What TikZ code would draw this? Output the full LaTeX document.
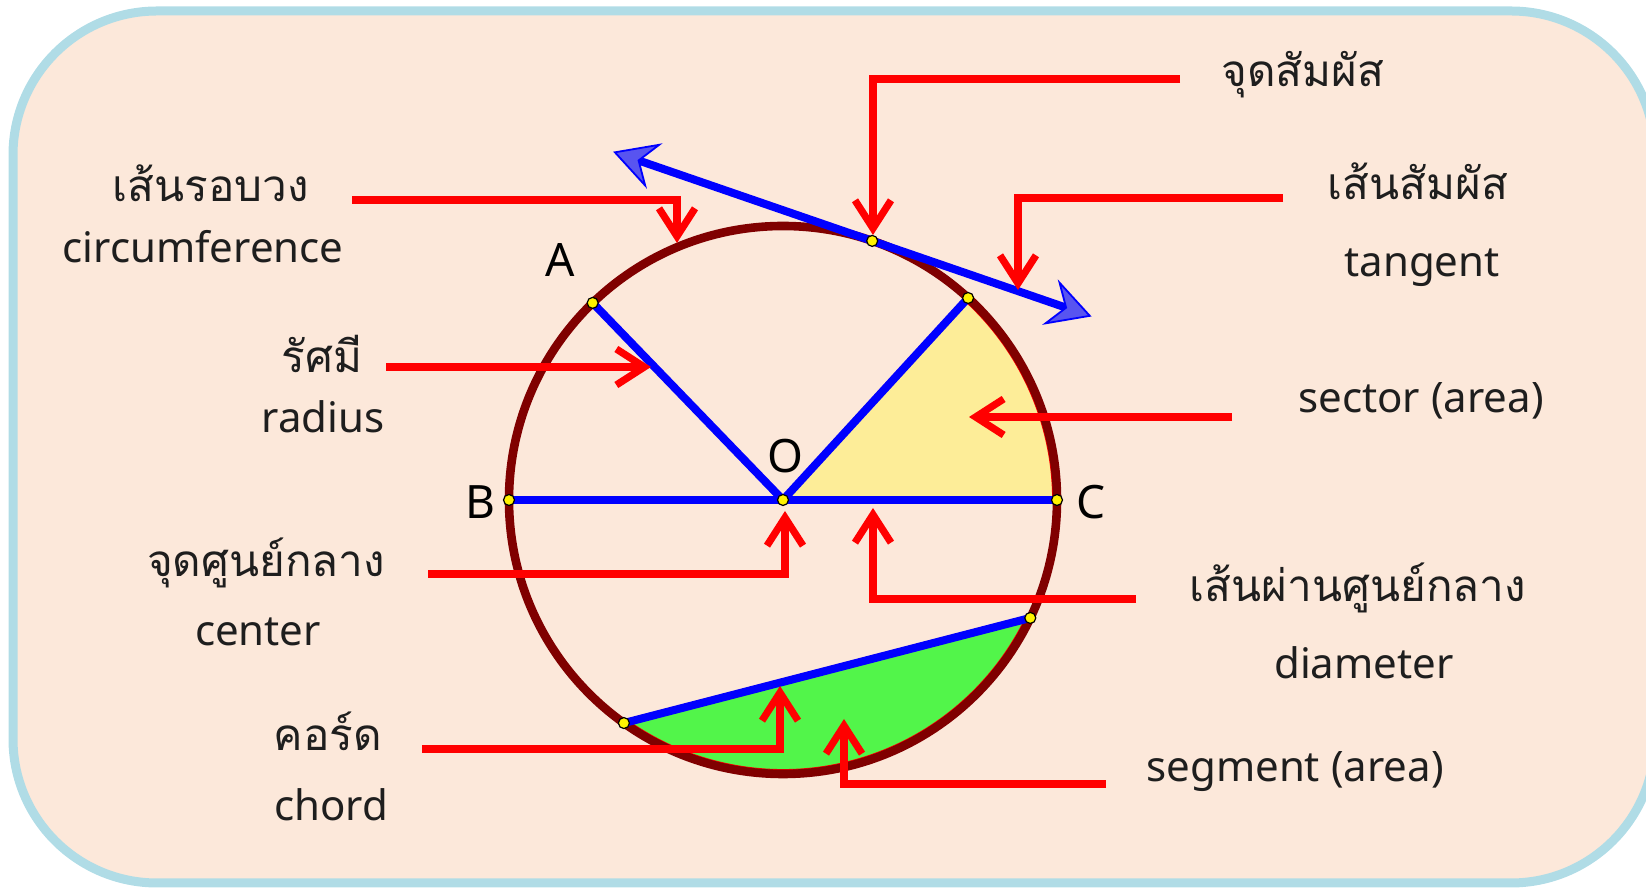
\documentclass[tikz,border=0pt]{standalone}
\usepackage{fontspec}
\setmainfont{Noto Sans}
\newfontfamily\thaifont[Script=Thai]{Loma}
\usetikzlibrary{arrows.meta, calc}

\definecolor{boxfill}{RGB}{252,232,218}
\definecolor{boxline}{RGB}{176,220,230}
\definecolor{rimred}{RGB}{128,0,0}
\definecolor{sectoryel}{RGB}{253,237,152}
\definecolor{segreen}{RGB}{82,245,74}
\definecolor{tipblue}{RGB}{88,84,240}
\definecolor{txtgray}{RGB}{30,30,30}

\tikzset{
  en/.style={font=\fontsize{21}{25}\selectfont, text=txtgray, anchor=base, inner sep=0pt},
  th/.style={font=\thaifont\fontsize{22}{26}\selectfont, text=txtgray, anchor=base, inner sep=0pt},
  letter/.style={font=\fontsize{23}{27}\selectfont, anchor=base, inner sep=0pt},
  vtx/.style={circle, draw=black, fill=yellow, line width=0.6pt, inner sep=0pt, minimum size=5.5pt},
  callout/.style={draw=red, line width=3.6pt, -{Straight Barb[length=14pt, width=18pt]}},
  blueseg/.style={draw=blue, line width=4pt},
  tangentline/.style={blueseg,
    {Stealth[length=22pt, width=24pt, inset=8pt, fill=tipblue, line width=0.9pt]}-{Stealth[length=22pt, width=24pt, inset=8pt, fill=tipblue, line width=0.9pt]}}
}

\begin{document}
\begin{tikzpicture}[x=0.5pt, y=0.5pt]
  \useasboundingbox (0,0) rectangle (1646,888);
  \draw[boxline, fill=boxfill, line width=4.5pt, rounded corners=72pt] (13,5) rectangle (1655,877);

  % points on the circle
  \coordinate (O) at (783,388);
  \coordinate (A) at ($(O)+(134:274)$);
  \coordinate (B) at ($(O)+(180:274)$);
  \coordinate (C) at ($(O)+(0:274)$);
  \coordinate (D) at ($(O)+(47.5:274)$);
  \coordinate (T) at ($(O)+(71:274)$);
  \coordinate (P) at ($(O)+(234.5:274)$);
  \coordinate (Q) at ($(O)+(-25.5:274)$);
  \coordinate (tanL) at ($(T)+(161:274)$);
  \coordinate (tanR) at ($(T)+(-19:232)$);

  % sector and segment
  \filldraw[fill=sectoryel, draw=red, line width=0.9pt] (O) -- ($(O)+(0:270)$) arc[start angle=0, end angle=47.5, radius=270] -- cycle;
  \filldraw[fill=segreen, draw=red, line width=0.9pt] ($(O)+(234.5:270)$) arc[start angle=234.5, end angle=334.5, radius=270] -- cycle;

  \draw[rimred, line width=4.3pt] (O) circle[radius=274];

  \draw[blueseg] (A) -- (O) -- (D);
  \draw[blueseg] (B) -- (C);
  \draw[blueseg] (P) -- (Q);
  \draw[tangentline] (tanL) -- (tanR);

  % labels
  \node[th] (thCirc) at (211,686) {เส้นรอบวง};
  \node[en] (enCirc) at (203,625) {circumference};
  \node[th] (thRad) at (322,515) {รัศมี};
  \node[en] (enRad) at (323,455) {radius};
  \node[th] (thTouch) at (1303,801) {จุดสัมผัส};
  \node[th] (thTan) at (1418,688) {เส้นสัมผัส};
  \node[en] (enTan) at (1422,611) {tangent};
  \node[en] (enSec) at (1421,475) {sector (area)};
  \node[th] (thCen) at (266,311) {จุดศูนย์กลาง};
  \node[en] (enCen) at (258,242) {center};
  \node[th] (thDia) at (1358,286) {เส้นผ่านศูนย์กลาง};
  \node[en] (enDia) at (1364,209) {diameter};
  \node[th] (thChord) at (328,137) {คอร์ด};
  \node[en] (enChord) at (331,67) {chord};
  \node[en] (enSeg) at (1295,106) {segment (area)};

  \node[letter] (labA) at (560,611) {A};
  \node[letter] (labB) at (480,369) {B};
  \node[letter] (labC) at (1091,369) {C};
  \node[letter] (labO) at (785,415) {O};

  % red callouts
  \coordinate (circS) at (352,688);  \coordinate (circT) at (677,645);
  \coordinate (radS) at (386,521);   \coordinate (radT) at (651,521);
  \coordinate (touchS) at (1180,809); \coordinate (touchT) at (873,653);
  \coordinate (tanS) at (1283,690);  \coordinate (tanT) at (1018,598);
  \coordinate (secS) at (1232,471);  \coordinate (secT) at (969,471);
  \coordinate (cenS) at (428,314);   \coordinate (cenT) at (785,377);
  \coordinate (diaS) at (1136,289);  \coordinate (diaT) at (873,380);
  \coordinate (chordS) at (422,139); \coordinate (chordT) at (780,202);
  \coordinate (segS) at (1106,104);  \coordinate (segT) at (844,169);

  \draw[callout] (circS) -| (circT);
  \draw[callout] (radS) -- (radT);
  \draw[callout] (touchS) -| (touchT);
  \draw[callout] (tanS) -| (tanT);
  \draw[callout] (secS) -- (secT);
  \draw[callout] (cenS) -| (cenT);
  \draw[callout] (diaS) -| (diaT);
  \draw[callout] (chordS) -| (chordT);
  \draw[callout] (segS) -| (segT);

  \foreach \p in {A,B,C,D,O,T,P,Q} {
    \node[vtx] (v\p) at (\p) {};
  }
\end{tikzpicture}
\end{document}
